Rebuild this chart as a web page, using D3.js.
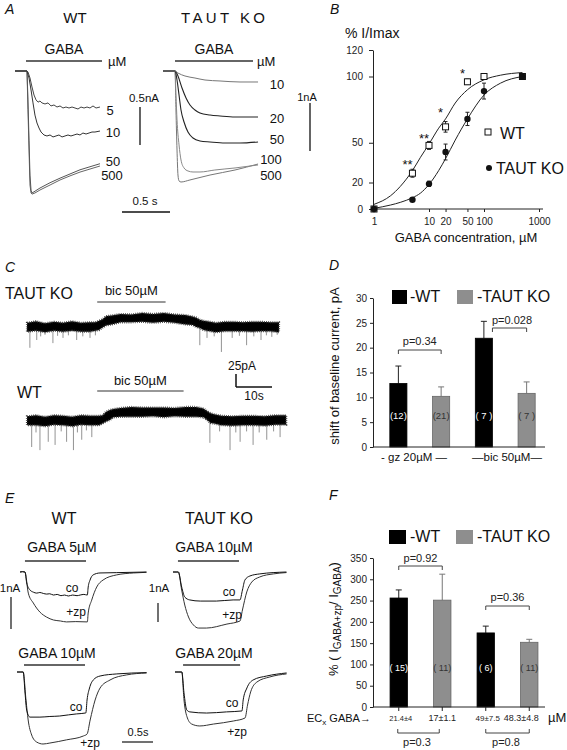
<!DOCTYPE html>
<html><head><meta charset="utf-8">
<script src="https://cdn.jsdelivr.net/npm/d3@7"></script>
<style>body{margin:0;background:#fff;}svg{display:block;}</style>
</head><body>
<script>
// ================= DATA =================
// Panel A : GABA-evoked currents (time s, current nA)
const aWt5 = [[0,0],[0.125,0],[0.135,-0.013],[0.156,-0.092],[0.177,-0.21],[0.198,-0.316],[0.219,-0.38],[0.24,-0.41],[0.26,-0.395],[0.281,-0.42],[0.3125,-0.434],[0.344,-0.42],[0.375,-0.46],[0.406,-0.447],[0.4375,-0.474],[0.469,-0.46],[0.5,-0.487],[0.531,-0.474],[0.5625,-0.487],[0.594,-0.474],[0.625,-0.487],[0.656,-0.5],[0.6875,-0.474],[0.719,-0.487],[0.75,-0.474],[0.781,-0.487],[0.8125,-0.46],[0.844,-0.487],[0.885,-0.474]];
const aWt10 = [[0,0],[0.125,0],[0.146,-0.092],[0.167,-0.25],[0.1875,-0.42],[0.208,-0.58],[0.229,-0.684],[0.25,-0.75],[0.271,-0.803],[0.302,-0.842],[0.333,-0.855],[0.365,-0.842],[0.396,-0.868],[0.427,-0.855],[0.458,-0.842],[0.49,-0.868],[0.521,-0.855],[0.552,-0.842],[0.583,-0.855],[0.615,-0.842],[0.646,-0.829],[0.677,-0.842],[0.708,-0.816],[0.74,-0.829],[0.771,-0.816],[0.802,-0.803],[0.833,-0.803],[0.885,-0.79]];
const aWt50 = [[0,0],[0.125,0],[0.135,-0.38],[0.146,-0.91],[0.156,-1.37],[0.167,-1.57],[0.177,-1.605],[0.198,-1.59],[0.26,-1.54],[0.365,-1.47],[0.469,-1.41],[0.573,-1.355],[0.677,-1.30],[0.781,-1.26],[0.885,-1.22]];
const aWt500 = [[0,0],[0.125,0],[0.135,-0.51],[0.146,-1.04],[0.156,-1.5],[0.167,-1.605],[0.177,-1.62],[0.208,-1.605],[0.26,-1.566],[0.365,-1.5],[0.469,-1.434],[0.573,-1.38],[0.677,-1.33],[0.781,-1.29],[0.885,-1.25]];
const aKo10 = [[0,0],[0.125,0],[0.156,-0.042],[0.229,-0.104],[0.333,-0.146],[0.4375,-0.1875],[0.594,-0.208],[0.802,-0.229],[0.99,-0.229]];
const aKo20 = [[0,0],[0.125,0],[0.156,-0.104],[0.198,-0.354],[0.24,-0.5625],[0.281,-0.708],[0.333,-0.8125],[0.385,-0.875],[0.49,-0.917],[0.594,-0.9375],[0.75,-0.958],[0.99,-0.958]];
const aKo50 = [[0,0],[0.125,0],[0.146,-0.1875],[0.167,-0.5],[0.1875,-0.8125],[0.219,-1.0625],[0.26,-1.27],[0.3125,-1.396],[0.385,-1.458],[0.49,-1.479],[0.646,-1.5],[0.802,-1.5],[0.99,-1.479]];
const aKo100 = [[0,0],[0.125,0],[0.135,-0.5],[0.146,-1.02],[0.167,-1.54],[0.1875,-1.854],[0.219,-2.02],[0.26,-2.083],[0.3125,-2.104],[0.385,-2.104],[0.54,-2.0625],[0.75,-2.02],[0.99,-1.958]];
const aKo500 = [[0,0],[0.125,0],[0.135,-0.8125],[0.146,-1.646],[0.156,-2.167],[0.167,-2.29],[0.1875,-2.3125],[0.281,-2.27],[0.49,-2.167],[0.75,-2.0625],[0.99,-1.9375]];
const aWtLabels = ["5","10","50","500"];
const aKoLabels = ["10","20","50","100","500"];

// Panel B : concentration-response (µM, % I/Imax)
const bWtConc = [1,5,10,20,50,100,500];
const bWtVal  = [0,27,48,62,96,100,100];
const bWtErr  = [0,3,3,4,2,1,0];
const bKoConc = [1,5,10,20,50,100,500];
const bKoVal  = [0,7,19,43,68,89,100];
const bKoErr  = [0,1,2,6,5,6,0];
const bWtFit  = [[1,3.5],[2,10],[3,17],[5,29],[7,39],[10,49],[15,61],[20,68],[30,80],[50,90],[100,97.5],[200,101],[500,103]];
const bKoFit  = [[1,0.5],[2,3],[3,5],[5,8.5],[7,12],[10,18.5],[15,29],[20,38],[30,52],[50,68],[100,86],[200,95],[500,100]];
const bYTicks = [0,20,50,100,120];
const bXTicks = [1,10,20,50,100,1000];
const bStars  = [[5,30,"**"],[10,50,"**"],[20,69.5,"*"],[50,99,"*"]];

// Panel C : holding current traces (time s, current pA)
const cKoT   = [0,2.5,5,7.5,10,12.5,15,17.5,19,20,21,22,23.5,26,29,32,35,38,41,44,46,47,48,49,50,52.5,55,57.5,60,62.5,65,67.5,70];
const cKoMid = [0,1,0,1,0,1,1,0,1,3,7,11,14,16,17,18,17,17,16,14,12,9,6,3,1,0,1,0,1,1,0,1,0];
const cKoUp  = [8,10,7,9,8,10,7,9,8,9,8,10,8,9,7,9,8,10,8,9,8,9,8,9,10,8,9,10,8,9,10,8,9];
const cKoDn  = [9,8,10,8,9,8,10,9,8,9,8,8,9,7,8,8,9,7,8,9,8,9,8,9,8,10,9,8,9,10,8,9,10];
const cKoSpikes = [[0.8,40],[2.7,25],[3.8,18],[5,15],[7.2,31],[8.5,17],[10,21],[11.5,16],[13.8,25],[15.5,18],[17.5,21],[19,16],[48,35],[50,21],[52,18],[54,48],[57,21],[59,17],[61,35],[63,18],[65,25],[66.5,16],[68,19],[69.5,15]];
const cWtT   = [0,2.5,5,7.5,10,12.5,15,17.5,20,21,22,23,24,26,29,32,35,38,41,44,47,49,50,51,52,54,57,60,63,66,69,72];
const cWtMid = [0,1,0,1,1,0,1,1,1,3,8,12,15,16,17,18,17,16,17,18,17,15,11,6,3,1,1,0,1,1,1,2];
const cWtUp  = [9,10,8,10,9,8,10,9,9,8,10,9,8,9,10,8,9,10,8,9,10,9,8,9,10,9,8,10,9,8,10,9];
const cWtDn  = [8,9,10,8,9,10,8,9,9,8,9,10,8,8,9,10,8,9,8,10,9,8,9,10,8,9,10,8,9,10,8,9];
const cWtSpikes = [[1.3,50],[2.5,22],[3.6,56],[5.9,40],[7.8,46],[9.5,20],[11,40],[12.9,56],[14,22],[15.2,36],[16.5,18],[18,31],[50.8,42],[53.5,20],[56.4,56],[58,22],[59.2,40],[61,20],[62.8,46],[64.5,22],[66.6,36],[68.5,20],[70.3,31]];
const cKoBic = [19.5,38.5];
const cWtBic = [19.5,43.5];

// Panel D : shift of baseline current (pA)
const dGroups = ["gz","bic"];
const dGroupLabels = ["- gz 20µM \u2014","\u2014bic 50µM\u2014"];
const dWt = [12.8,21.9];  const dWtErr = [3.5,3.4];  const dWtN = ["(12)","( 7 )"];
const dKo = [10.2,10.8];  const dKoErr = [1.9,2.3];  const dKoN = ["(21)","( 7 )"];
const dP = ["p=0.34","p=0.028"];
const dYTicks = [0,5,10,15,20,25,30];

// Panel E : zolpidem potentiation traces (time s, current nA)
const eWt5Co = [[0,0],[0.04,0.01],[0.08,0],[0.108,-0.34],[0.16,-0.56],[0.215,-0.63],[0.27,-0.66],[0.32,-0.64],[0.376,-0.67],[0.43,-0.69],[0.48,-0.68],[0.54,-0.72],[0.6,-0.70],[0.66,-0.74],[0.72,-0.72],[0.78,-0.75],[0.85,-0.72],[0.92,-0.74],[0.97,-0.72],[1.03,-0.70],[1.086,-0.72],[1.10,-0.47],[1.13,-0.25],[1.18,-0.09],[1.29,-0.03],[1.56,-0.02],[2.04,0]];
const eWt5Zp = [[0,0],[0.04,0.01],[0.08,0],[0.134,-0.66],[0.215,-0.97],[0.32,-1.25],[0.43,-1.41],[0.54,-1.5],[0.65,-1.53],[0.75,-1.56],[0.9,-1.55],[1.086,-1.56],[1.10,-1.28],[1.156,-0.88],[1.237,-0.47],[1.34,-0.25],[1.56,-0.09],[1.83,-0.03],[2.04,-0.01]];
const eWt10Co = [[0,0],[0.05,0],[0.1,0],[0.13,-0.66],[0.156,-1.19],[0.21,-1.41],[0.37,-1.41],[0.53,-1.39],[0.69,-1.375],[0.83,-1.34],[0.96,-1.31],[1.11,-1.28],[1.13,-0.875],[1.17,-0.5],[1.23,-0.25],[1.34,-0.125],[1.61,-0.06],[2.09,-0.02]];
const eWt10Zp = [[0,0],[0.05,0],[0.1,0],[0.145,-0.875],[0.18,-1.5],[0.237,-1.97],[0.318,-2.19],[0.42,-2.25],[0.53,-2.22],[0.80,-2.12],[1.07,-2.0],[1.13,-1.94],[1.18,-1.5],[1.26,-0.875],[1.34,-0.5],[1.5,-0.25],[1.77,-0.09],[2.09,-0.03]];
const eKo10Co = [[0,0],[0.05,0],[0.086,0],[0.14,-0.79],[0.19,-1.32],[0.27,-1.47],[0.44,-1.53],[0.70,-1.53],[0.97,-1.47],[1.08,-1.47],[1.12,-0.95],[1.16,-0.42],[1.24,-0.21],[1.40,-0.1],[1.83,0]];
const eKo10Zp = [[0,0],[0.05,0],[0.086,0],[0.14,-0.95],[0.19,-1.74],[0.25,-2.37],[0.33,-2.79],[0.41,-2.95],[0.54,-2.95],[0.87,-2.74],[1.08,-2.58],[1.12,-2.0],[1.19,-1.05],[1.27,-0.53],[1.40,-0.26],[1.62,-0.1],[1.83,-0.03]];
const eKo20Co = [[0,0],[0.05,0],[0.11,0],[0.145,-1.1],[0.19,-2.0],[0.24,-2.1],[0.51,-2.16],[0.83,-2.1],[1.08,-2.05],[1.10,-1.47],[1.16,-0.84],[1.26,-0.42],[1.48,-0.21],[1.80,-0.05]];
const eKo20Zp = [[0,0],[0.05,0],[0.11,0],[0.145,-1.47],[0.20,-2.42],[0.27,-2.74],[0.40,-2.84],[0.62,-2.74],[0.94,-2.58],[1.13,-2.42],[1.17,-1.74],[1.22,-1.05],[1.32,-0.53],[1.53,-0.26],[1.80,-0.1]];
const eGaba = [[0.08,1.065],[0.08,1.065],[0.113,1.097],[0.13,1.05]];
const eTitles = ["GABA 5µM","GABA 10µM","GABA 10µM","GABA 20µM"];

// Panel F : potentiation (%)
const fWt = [256,174];  const fWtErr = [19,16];  const fWtN = ["( 15)","( 6)"];
const fKo = [251,152];  const fKoErr = [61,7];   const fKoN = ["( 11)","( 11)"];
const fWtEc = ["21.4±4","49±7.5"];
const fKoEc = ["17±1.1","48.3±4.8"];
const fPTop = ["p=0.92","p=0.36"];
const fPBottom = ["p=0.3","p=0.8"];
const fYTicks = [0,50,100,150,200,250,300,350];

// ================= DRAWING =================
const FONT = '"Liberation Sans", Arial, Helvetica, sans-serif';
const svg = d3.select("body").append("svg").attr("width",567).attr("height",750)
  .attr("font-family",FONT);
svg.append("rect").attr("width",567).attr("height",750).attr("fill","#fff");

function T(x,y,s,size,anchor,fill){
  return svg.append("text").attr("x",x).attr("y",y).attr("font-size",size||13)
    .attr("text-anchor",anchor||"start").attr("fill",fill||"#111").text(s);
}
function L(x1,y1,x2,y2,w,c){
  return svg.append("line").attr("x1",x1).attr("y1",y1).attr("x2",x2).attr("y2",y2)
    .attr("stroke",c||"#222").attr("stroke-width",w||1);
}
function trace(data,xs,ys,color,w,curve){
  svg.append("path").attr("d",d3.line().x(d=>xs(d[0])).y(d=>ys(d[1])).curve(curve||d3.curveLinear)(data))
    .attr("fill","none").attr("stroke",color).attr("stroke-width",w||1).attr("stroke-linejoin","round");
}
function letter(x,y,s){ T(x,y,s,14,"start","#111").attr("font-style","italic"); }

// ---------- Panel A ----------
letter(5,14,"A");
const xA = d3.scaleLinear().domain([0,1]).range([15,111]);
const yA = d3.scaleLinear().domain([0,-1]).range([71,147]);
const xAk = d3.scaleLinear().domain([0,1]).range([163,259]);
const yAk = d3.scaleLinear().domain([0,-1]).range([71,119]);
T(75,23,"WT",15,"middle");
T(223,23,"TAUT KO",15,"middle").attr("textLength",84).attr("lengthAdjust","spacing");
T(64,54,"GABA",14,"middle"); L(26,61,102,61,1.3,"#333"); T(108,66,"µM",13);
T(214,54,"GABA",14,"middle"); L(175,61,253,61,1.3,"#333"); T(257,66,"µM",13);
trace(aWt500,xA,yA,"#666",1);
trace(aWt50,xA,yA,"#555",1);
trace(aWt10,xA,yA,"#333",1);
trace(aWt5,xA,yA,"#444",1);
trace(aKo500,xAk,yAk,"#777",1,d3.curveMonotoneX);
trace(aKo100,xAk,yAk,"#888",1,d3.curveMonotoneX);
trace(aKo50,xAk,yAk,"#222",1.1,d3.curveMonotoneX);
trace(aKo20,xAk,yAk,"#222",1.1,d3.curveMonotoneX);
trace(aKo10,xAk,yAk,"#777",1,d3.curveMonotoneX);
const aWtLabPos = [[110,114.5],[113,137],[113,165.5],[112,180]];
aWtLabels.forEach((s,i)=>T(aWtLabPos[i][0],aWtLabPos[i][1],s,13,"middle"));
const aKoLabPos = [[277,89],[277,122.5],[277,144],[271,164],[271,180]];
aKoLabels.forEach((s,i)=>T(aKoLabPos[i][0],aKoLabPos[i][1],s,13,"middle"));
// scale bars
T(144,102,"0.5nA",11.5,"middle");
L(140,107,140,107+(yA(-0.5)-yA(0)),1.3,"#111");
T(307,101,"1nA",11,"middle");
L(310,103,310,103+(yAk(-1)-yAk(0)),1.3,"#111");
T(145,205,"0.5 s",11.5,"middle");
L(122,212,122+(xA(0.5)-xA(0)),212,1.3,"#111");

// ---------- Panel B ----------
letter(330,14,"B");
const xB = d3.scaleLog().domain([1,1000]).range([374,539]);
const yB = d3.scaleLinear().domain([0,120]).range([209,50]);
T(345,38,"% I/Imax",14);
const gBy = svg.append("g").attr("transform","translate(373,0)")
  .call(d3.axisLeft(yB).tickValues(bYTicks).tickSize(4).tickPadding(6).tickSizeOuter(0));
const gBx = svg.append("g").attr("transform","translate(0,209)")
  .call(d3.axisBottom(xB).tickValues(bXTicks).tickFormat(d3.format("d")).tickSize(3).tickPadding(6).tickSizeOuter(0));
[gBy,gBx].forEach(g=>{g.attr("font-family",FONT).attr("font-size",10);
  g.selectAll("text").attr("fill","#222"); g.selectAll("line,path").attr("stroke","#222");});
gBx.select(".domain").remove();
L(373,209,543,209,1,"#222");
T(466,242,"GABA concentration, µM",13,"middle");
const fitLine = d3.line().x(d=>xB(d[0])).y(d=>yB(d[1])).curve(d3.curveMonotoneX);
svg.append("path").attr("d",fitLine(bWtFit)).attr("fill","none").attr("stroke","#222").attr("stroke-width",1);
svg.append("path").attr("d",fitLine(bKoFit)).attr("fill","none").attr("stroke","#222").attr("stroke-width",1);
function errB(c,v,e){ if(!e) return; const x=xB(c);
  L(x,yB(v-e),x,yB(v+e),1,"#222"); L(x-2,yB(v+e),x+2,yB(v+e),1,"#222"); L(x-2,yB(v-e),x+2,yB(v-e),1,"#222"); }
bWtConc.forEach((c,i)=>errB(c,bWtVal[i],bWtErr[i]));
bKoConc.forEach((c,i)=>errB(c,bKoVal[i],bKoErr[i]));
svg.selectAll(".wtpt").data(bWtConc).enter().append("rect")
  .attr("x",(c)=>xB(c)-3).attr("y",(c,i)=>yB(bWtVal[i])-3).attr("width",6).attr("height",6)
  .attr("fill","#fff").attr("stroke","#111").attr("stroke-width",1);
svg.selectAll(".kopt").data(bKoConc).enter().append("circle")
  .attr("cx",c=>xB(c)).attr("cy",(c,i)=>yB(bKoVal[i])).attr("r",3.2).attr("fill","#111");
bStars.forEach(s=>T(xB(s[0])-5,yB(s[1]),s[2],13,"middle"));
// legend
svg.append("rect").attr("x",485).attr("y",129).attr("width",6).attr("height",6).attr("fill","#fff").attr("stroke","#111");
T(500,139,"WT",16);
svg.append("circle").attr("cx",489).attr("cy",168).attr("r",3).attr("fill","#111");
T(496,174,"TAUT KO",16);

// ---------- Panel C ----------
letter(5,272,"C");
const xC = d3.scaleLinear().domain([0,70]).range([27,279]);
const yCk = d3.scaleLinear().domain([0,25]).range([327,314]);
const yCw = d3.scaleLinear().domain([0,25]).range([421,408]);
function band(Ts,mid,up,dn,spikes,ys){
  const pts = Ts.map((t,i)=>({t:t,hi:mid[i]+up[i],lo:mid[i]-dn[i]}));
  const midAt = d3.scaleLinear().domain(Ts).range(mid);
  spikes.forEach(s=>{ const m=midAt(s[0]);
    L(xC(s[0]),ys(m-6),xC(s[0]),ys(-s[1]),0.8,"#777"); });
  svg.append("path").attr("d",d3.area().x(d=>xC(d.t)).y0(d=>ys(d.lo)).y1(d=>ys(d.hi))(pts))
    .attr("fill","#000").attr("stroke","#333").attr("stroke-width",2.2).attr("stroke-dasharray","0.8,1.3");
}
T(5,299,"TAUT KO",16);
T(xC((cKoBic[0]+cKoBic[1])/2),295,"bic 50µM",13,"middle");
L(xC(cKoBic[0]),302,xC(cKoBic[1]),302,1.2,"#333");
band(cKoT,cKoMid,cKoUp,cKoDn,cKoSpikes,yCk);
T(17,398,"WT",16);
T(xC((cWtBic[0]+cWtBic[1])/2),385,"bic 50µM",13,"middle");
L(xC(cWtBic[0]),391,xC(cWtBic[1]),391,1.2,"#333");
band(cWtT,cWtMid,cWtUp,cWtDn,cWtSpikes,yCw);
// scale
T(228,370,"25pA",12);
L(236,387,236,387-(yCk(0)-yCk(25)),1.5,"#111");
L(236,387,236+(xC(10)-xC(0)),387,1.5,"#111");
T(254,400,"10s",12,"middle");

// ---------- Panel D ----------
letter(329,270,"D");
const yD = d3.scaleLinear().domain([0,30]).range([447,298]);
const xDo = d3.scaleBand().domain(dGroups).range([377,548]);
const xDi = d3.scaleBand().domain(["WT","KO"]).range([0,xDo.bandwidth()]).paddingInner(0.6).paddingOuter(0.3);
const gDy = svg.append("g").attr("transform","translate(373,0)")
  .call(d3.axisLeft(yD).tickValues(dYTicks).tickSize(3).tickPadding(3).tickSizeOuter(0));
gDy.attr("font-family",FONT).attr("font-size",10);
gDy.selectAll("text").attr("fill","#222"); gDy.selectAll("line,path").attr("stroke","#222");
svg.append("g").attr("transform","translate(339,366) rotate(-90)").append("text")
  .attr("text-anchor","middle").attr("font-size",13).attr("fill","#111").text("shift of baseline current, pA");
function bars(groups,vals,errs,ns,series,xo,xi,ys,fill,stroke,ecol,ncol,ny,nsize){
  groups.forEach((g,i)=>{
    const x = xo(g)+xi(series), w = xi.bandwidth(), cx = x+w/2;
    L(cx,ys(vals[i]),cx,ys(vals[i]+errs[i]),1,ecol);
    L(cx-3,ys(vals[i]+errs[i]),cx+3,ys(vals[i]+errs[i]),1,ecol);
    svg.append("rect").attr("x",x).attr("y",ys(vals[i])).attr("width",w).attr("height",ys(0)-ys(vals[i]))
      .attr("fill",fill).attr("stroke",stroke).attr("stroke-width",0.8);
    T(cx,ny,ns[i],nsize,"middle",ncol);
  });
}
bars(dGroups,dWt,dWtErr,dWtN,"WT",xDo,xDi,yD,"#000","#000","#222","#fff",419,9.5);
bars(dGroups,dKo,dKoErr,dKoN,"KO",xDo,xDi,yD,"#8e8e8e","#666","#777","#333",419,9.5);
L(373,447,545,447,1,"#222");
// legend
svg.append("rect").attr("x",392).attr("y",290).attr("width",15).attr("height",14).attr("fill","#000");
T(410,302,"-WT",16);
svg.append("rect").attr("x",457).attr("y",290).attr("width",16).attr("height",14).attr("fill","#8e8e8e");
T(477,302,"-TAUT KO",16);
// brackets
function bracket(x1,x2,y,dir){ // dir 1 ticks down, -1 ticks up
  svg.append("path").attr("d",`M${x1},${y+4*dir}V${y}H${x2}V${y+4*dir}`)
    .attr("fill","none").attr("stroke","#444").attr("stroke-width",1);
}
const dC = (g,s)=>xDo(g)+xDi(s)+xDi.bandwidth()/2;
bracket(dC("gz","WT"),dC("gz","KO"),350,1);
T((dC("gz","WT")+dC("gz","KO"))/2,345,dP[0],11,"middle","#222");
bracket(xDo("bic")+xDi("WT")+xDi.bandwidth(),dC("bic","KO"),328,1);
T(512,324,dP[1],11,"middle","#222");
T(414,461,dGroupLabels[0],11.5,"middle");
T(507,461,dGroupLabels[1],11.5,"middle");

// ---------- Panel E ----------
letter(5,503,"E");
T(64,524,"WT",16,"middle");
T(219,524,"TAUT KO",16,"middle");
const xE = [d3.scaleLinear().domain([0,1]).range([20,82]),
            d3.scaleLinear().domain([0,1]).range([173,235]),
            d3.scaleLinear().domain([0,1]).range([17,79]),
            d3.scaleLinear().domain([0,1]).range([175,237])];
const yE = [d3.scaleLinear().domain([0,-1]).range([572,604]),
            d3.scaleLinear().domain([0,-1]).range([572,591]),
            d3.scaleLinear().domain([0,-1]).range([672,704]),
            d3.scaleLinear().domain([0,-1]).range([672,691])];
const eTraces = [[eWt5Co,eWt5Zp],[eKo10Co,eKo10Zp],[eWt10Co,eWt10Zp],[eKo20Co,eKo20Zp]];
const eTitlePos = [[62,552],[214,552],[57,658],[214,658]];
const eBarY = [561,561,665,665];
eTraces.forEach((pr,i)=>{
  T(eTitlePos[i][0],eTitlePos[i][1],eTitles[i],14,"middle");
  L(xE[i](eGaba[i][0]),eBarY[i],xE[i](eGaba[i][1]),eBarY[i],1.6,"#333");
  trace(pr[1],xE[i],yE[i],"#333",1,d3.curveMonotoneX);
  trace(pr[0],xE[i],yE[i],"#111",1,d3.curveMonotoneX);
});
const eCoPos = [[72,592],[229,596],[76,711],[232,707]];
const eZpPos = [[76,616],[232,619],[90,747],[237,736]];
eCoPos.forEach(p=>T(p[0],p[1],"co",12,"middle"));
eZpPos.forEach(p=>T(p[0],p[1],"+zp",12,"middle"));
T(10,592,"1nA",11.5,"middle");
L(11,597,11,597+(yE[0](-1)-yE[0](0)),1.2,"#111");
T(159,592,"1nA",11.5,"middle");
L(158,603,158,603+(yE[1](-1)-yE[1](0)),1.2,"#111");
T(138,736,"0.5s",11,"middle");
L(122,742,122+(xE[0](0.5)-xE[0](0)),742,1.2,"#111");

// ---------- Panel F ----------
letter(329,500,"F");
const yF = d3.scaleLinear().domain([0,350]).range([707,558]);
const xFo = d3.scaleBand().domain(dGroups).range([377,551]);
const xFi = d3.scaleBand().domain(["WT","KO"]).range([0,xFo.bandwidth()]).paddingInner(0.6).paddingOuter(0.3);
const gFy = svg.append("g").attr("transform","translate(373,0)")
  .call(d3.axisLeft(yF).tickValues(fYTicks).tickSize(3).tickPadding(3).tickSizeOuter(0));
gFy.attr("font-family",FONT).attr("font-size",10);
gFy.selectAll("text").attr("fill","#222"); gFy.selectAll("line,path").attr("stroke","#222");
const fl = svg.append("g").attr("transform","translate(338,619) rotate(-90)").append("text")
  .attr("text-anchor","middle").attr("font-size",13).attr("fill","#111");
fl.append("tspan").text("% ( I");
fl.append("tspan").attr("font-size",10).attr("dy",3).text("GABA+zp");
fl.append("tspan").attr("dy",-3).text("/ I");
fl.append("tspan").attr("font-size",10).attr("dy",3).text("GABA");
fl.append("tspan").attr("dy",-3).text(")");
bars(dGroups,fWt,fWtErr,fWtN,"WT",xFo,xFi,yF,"#000","#000","#222","#fff",671,9);
bars(dGroups,fKo,fKoErr,fKoN,"KO",xFo,xFi,yF,"#8e8e8e","#666","#777","#333",671,9);
L(373,707,545,707,1,"#222");
const fC = (g,s)=>xFo(g)+xFi(s)+xFi.bandwidth()/2;
dGroups.forEach(g=>["WT","KO"].forEach(s=>L(fC(g,s),707,fC(g,s),711,1,"#222")));
svg.append("rect").attr("x",389).attr("y",530).attr("width",17).attr("height",14).attr("fill","#000");
T(410,542,"-WT",16);
svg.append("rect").attr("x",456).attr("y",530).attr("width",17).attr("height",14).attr("fill","#8e8e8e");
T(477,542,"-TAUT KO",16);
bracket(fC("gz","WT"),fC("gz","KO"),566,1);
T((fC("gz","WT")+fC("gz","KO"))/2,562,fPTop[0],11,"middle","#222");
bracket(fC("bic","WT"),fC("bic","KO"),606,1);
T((fC("bic","WT")+fC("bic","KO"))/2,601,fPTop[1],11,"middle","#222");
const fEcSize = [[7.5,9],[8,9]];
dGroups.forEach((g,i)=>{
  T(fC(g,"WT")+2,721,fWtEc[i],fEcSize[i][0],"middle","#222");
  T(fC(g,"KO")-(i?8:0),721,fKoEc[i],fEcSize[i][1],"middle","#222");
});
const ec = T(307,722,"",11,"start","#111");
ec.append("tspan").text("EC");
ec.append("tspan").attr("font-size",8).attr("dy",3).text("x");
ec.append("tspan").attr("dy",-3).text(" GABA\u2192");
T(548,722,"µM",13);
bracket(fC("gz","WT")-1,fC("gz","KO")-3,733,-1);
T(417,746,fPBottom[0],11,"middle","#222");
bracket(fC("bic","WT"),fC("bic","KO"),733,-1);
T(506,746,fPBottom[1],11,"middle","#222");
</script></body></html>
